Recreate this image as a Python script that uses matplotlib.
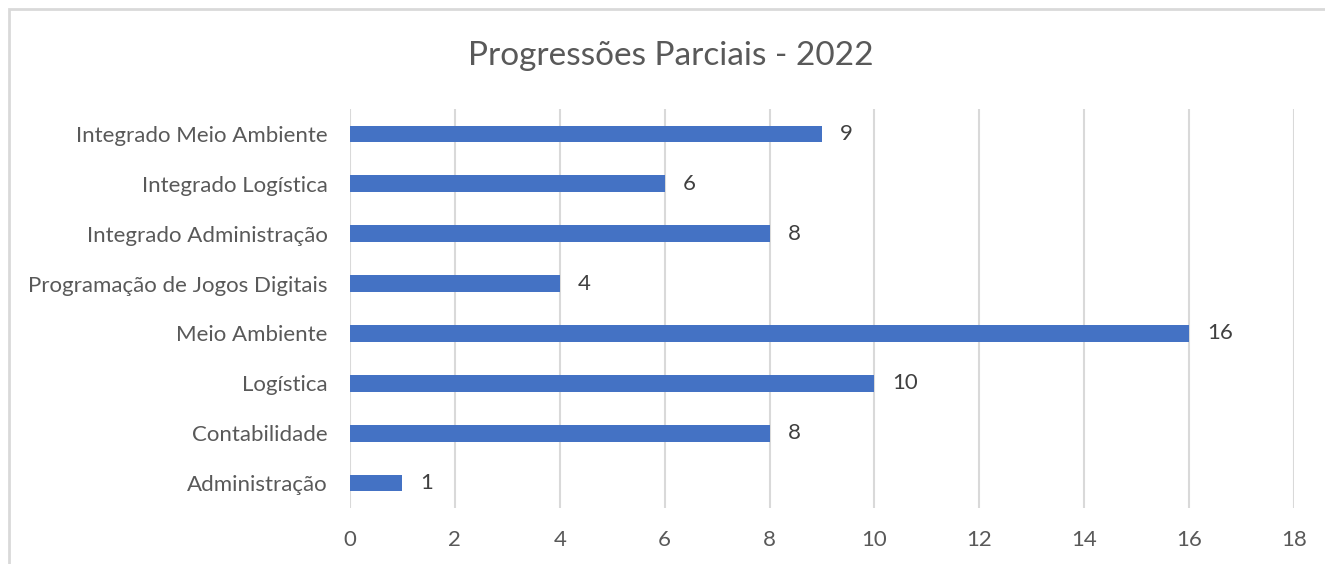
import matplotlib.pyplot as plt
from matplotlib.patches import Rectangle

cursos = ["Administração", "Contabilidade", "Logística", "Meio Ambiente",
          "Programação de Jogos Digitais", "Integrado Administração",
          "Integrado Logística", "Integrado Meio Ambiente"]
progressoes = [1, 8, 10, 16, 4, 8, 6, 9]
ticks_x = list(range(0, 19, 2))

plt.rcParams['font.family'] = ['Lato', 'DejaVu Sans']
cor_texto = "#595959"

fig = plt.figure(figsize=(13.25, 5.64), dpi=100)
ax = fig.add_axes([350 / 1325, 1 - 508 / 564, 944 / 1325, 399 / 564])

y = range(len(cursos))
ax.barh(y, progressoes, height=0.335, color="#4472C4", zorder=3)

for i, v in enumerate(progressoes):
    ax.annotate(str(v), (v, i), xytext=(13, 0), textcoords="offset points",
                va="center", ha="left", fontsize=16, color="#404040")

ax.set_xlim(0, 18)
ax.set_ylim(-0.5, len(cursos) - 0.5)
ax.set_xticks(ticks_x)
ax.set_yticks(list(y))
ax.set_yticklabels(cursos)
ax.tick_params(axis="both", length=0, labelsize=16, labelcolor=cor_texto)
ax.tick_params(axis="x", pad=16)
ax.tick_params(axis="y", pad=16)
ax.grid(axis="x", color="#D9D9D9", linewidth=1.5, zorder=0)
for s in ax.spines.values():
    s.set_visible(False)

fig.text(0.5 + 8 / 1325, 1 - 56 / 564, "Progressões Parciais - 2022",
         ha="center", va="center", fontsize=24, color=cor_texto)

# moldura do gráfico
fig.patches.append(Rectangle((9 / 1325, -0.1), 1.2, 1 - 9 / 564 + 0.1,
                             transform=fig.transFigure, fill=False,
                             edgecolor="#D9D9D9", linewidth=2))

fig.savefig("out.png", dpi=100)
